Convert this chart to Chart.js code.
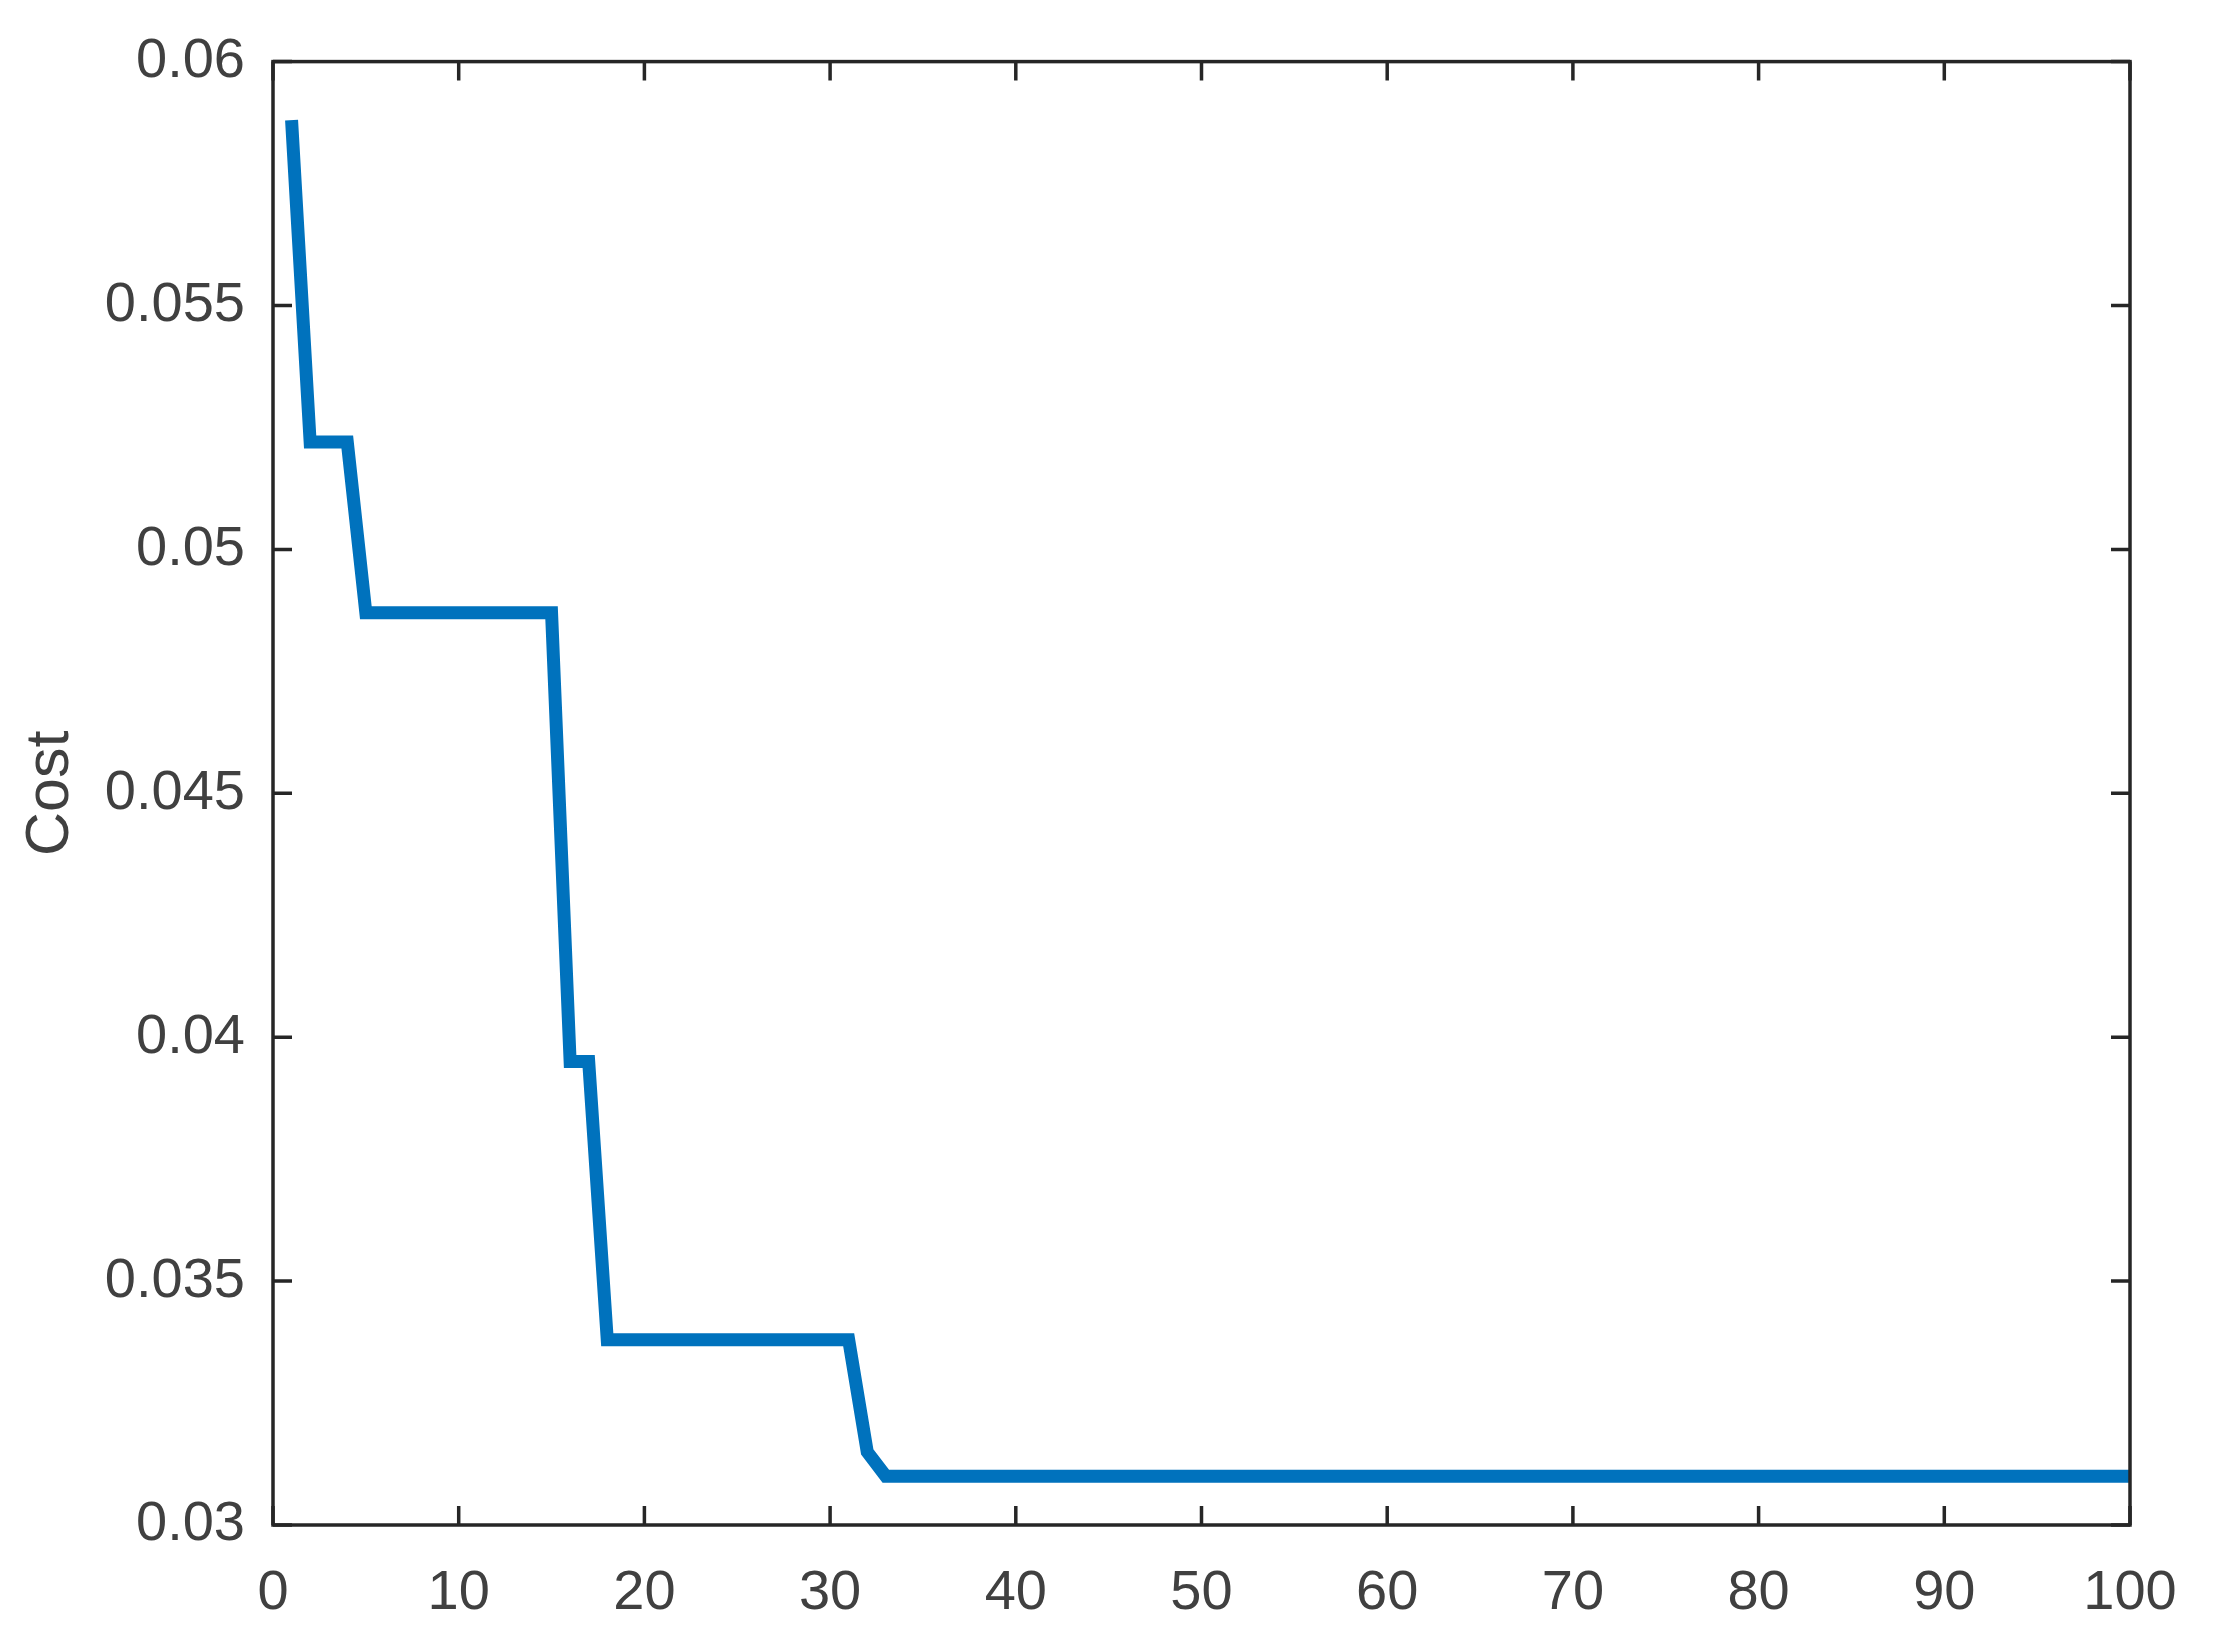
<!DOCTYPE html>
<html>
<head>
<meta charset="utf-8">
<script src="https://cdn.jsdelivr.net/npm/chart.js@4.4.1/dist/chart.umd.min.js"></script>
<style>
  html, body { margin: 0; padding: 0; background: #fff; }
  #wrap { width: 2215px; height: 1637px; }
</style>
</head>
<body>
<div id="wrap"><canvas id="myChart" width="2215" height="1637"></canvas></div>
<script>
// iteration number and best cost at that iteration
var iterations = [];
for (var i = 1; i <= 100; i++) iterations.push(i);
var cost = [
  0.0588, 0.0522, 0.0522, 0.0522, 0.0487, 0.0487, 0.0487, 0.0487, 0.0487, 0.0487,
  0.0487, 0.0487, 0.0487, 0.0487, 0.0487, 0.0395, 0.0395, 0.0338, 0.0338, 0.0338,
  0.0338, 0.0338, 0.0338, 0.0338, 0.0338, 0.0338, 0.0338, 0.0338, 0.0338, 0.0338,
  0.0338, 0.0315, 0.0310, 0.0310, 0.0310, 0.0310, 0.0310, 0.0310, 0.0310, 0.0310,
  0.0310, 0.0310, 0.0310, 0.0310, 0.0310, 0.0310, 0.0310, 0.0310, 0.0310, 0.0310,
  0.0310, 0.0310, 0.0310, 0.0310, 0.0310, 0.0310, 0.0310, 0.0310, 0.0310, 0.0310,
  0.0310, 0.0310, 0.0310, 0.0310, 0.0310, 0.0310, 0.0310, 0.0310, 0.0310, 0.0310,
  0.0310, 0.0310, 0.0310, 0.0310, 0.0310, 0.0310, 0.0310, 0.0310, 0.0310, 0.0310,
  0.0310, 0.0310, 0.0310, 0.0310, 0.0310, 0.0310, 0.0310, 0.0310, 0.0310, 0.0310,
  0.0310, 0.0310, 0.0310, 0.0310, 0.0310, 0.0310, 0.0310, 0.0310, 0.0310, 0.0310
];

var xTicks = [0, 10, 20, 30, 40, 50, 60, 70, 80, 90, 100];
var xTickLabels = ['0', '10', '20', '30', '40', '50', '60', '70', '80', '90', '100'];
var yTicks = [0.03, 0.035, 0.04, 0.045, 0.05, 0.055, 0.06];
var yTickLabels = ['0.03', '0.035', '0.04', '0.045', '0.05', '0.055', '0.06'];

var points = iterations.map(function (it, k) { return { x: it, y: cost[k] }; });

var axisColor = '#262626';
var textColor = '#404040';

// matlab style box with inward ticks on all four sides
var boxPlugin = {
  id: 'box',
  afterDatasetsDraw: function (chart) {
    var ctx = chart.ctx, a = chart.chartArea;
    var xs = chart.scales.x, ys = chart.scales.y;
    var len = 19;
    ctx.save();
    ctx.strokeStyle = axisColor;
    ctx.lineWidth = 3.5;
    ctx.beginPath();
    xs.ticks.forEach(function (t) {
      var px = xs.getPixelForValue(t.value);
      ctx.moveTo(px, a.bottom); ctx.lineTo(px, a.bottom - len);
      ctx.moveTo(px, a.top); ctx.lineTo(px, a.top + len);
    });
    ys.ticks.forEach(function (t) {
      var py = ys.getPixelForValue(t.value);
      ctx.moveTo(a.left, py); ctx.lineTo(a.left + len, py);
      ctx.moveTo(a.right, py); ctx.lineTo(a.right - len, py);
    });
    ctx.stroke();
    ctx.strokeRect(a.left, a.top, a.right - a.left, a.bottom - a.top);
    ctx.restore();
  }
};

var ctx = document.getElementById('myChart').getContext('2d');
var myChart = new Chart(ctx, {
  type: 'line',
  data: {
    datasets: [{
      label: 'Cost',
      data: points,
      borderColor: '#0072BD',
      borderWidth: 13,
      pointRadius: 0,
      tension: 0,
      fill: false
    }]
  },
  options: {
    responsive: false,
    animation: false,
    devicePixelRatio: 1,
    layout: { padding: { left: 0, top: 60, right: 85, bottom: 0 } },
    plugins: {
      legend: { display: false },
      tooltip: { enabled: false }
    },
    scales: {
      x: {
        type: 'linear',
        min: 0,
        max: 100,
        afterBuildTicks: function (s) { s.ticks = xTicks.map(function (v) { return { value: v }; }); },
        afterFit: function (s) { s.height = 112; },
        grid: { display: false, drawTicks: false },
        border: { display: false },
        ticks: {
          padding: 35,
          maxRotation: 0,
          color: textColor,
          font: { family: 'Liberation Sans, Arial, sans-serif', size: 56 },
          callback: function (v, i) { return xTickLabels[i]; }
        }
      },
      y: {
        type: 'linear',
        min: 0.03,
        max: 0.06,
        afterBuildTicks: function (s) { s.ticks = yTicks.map(function (v) { return { value: v }; }); },
        afterFit: function (s) { s.width = 273; },
        grid: { display: false, drawTicks: false },
        border: { display: false },
        title: {
          display: true,
          text: 'Cost',
          color: textColor,
          padding: { top: 15, bottom: 0 },
          font: { family: 'Liberation Sans, Arial, sans-serif', size: 61 }
        },
        ticks: {
          padding: 28,
          color: textColor,
          font: { family: 'Liberation Sans, Arial, sans-serif', size: 56 },
          callback: function (v, i) { return yTickLabels[i]; }
        }
      }
    }
  },
  plugins: [boxPlugin]
});
</script>
</body>
</html>
